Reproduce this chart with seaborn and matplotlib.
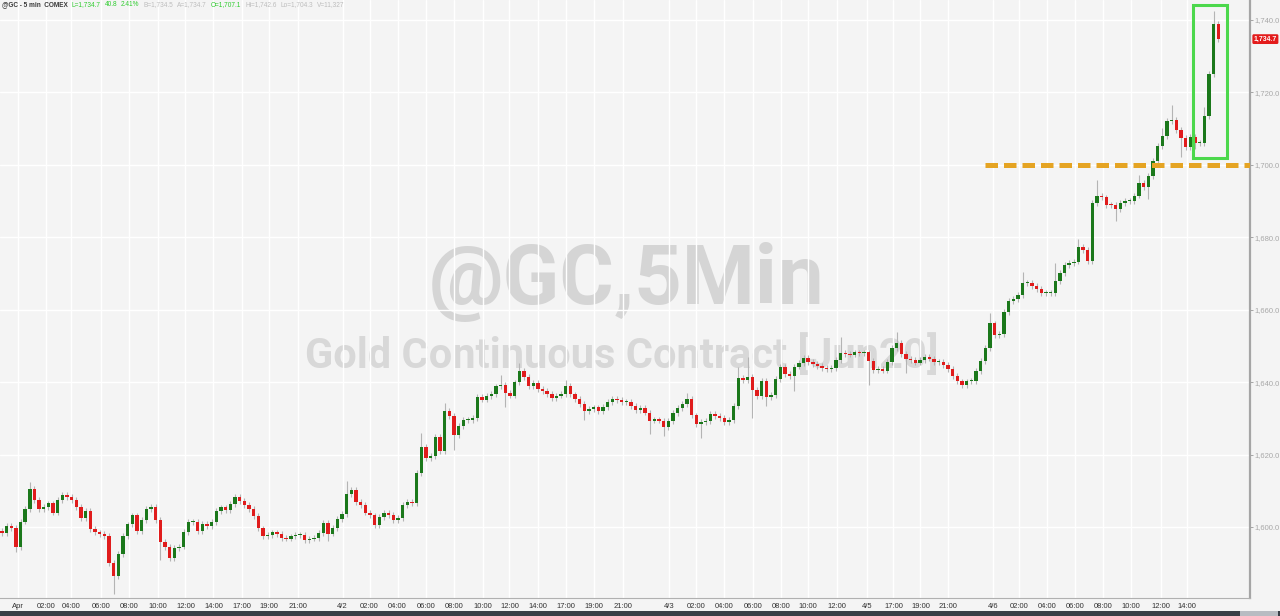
import numpy as np
import pandas as pd
import matplotlib
matplotlib.use('Agg')
import matplotlib.pyplot as plt
import matplotlib.transforms as mtransforms
from matplotlib.patches import Rectangle
import seaborn as sns

# 20-minute closes (31 Mar 23:00 -> 6 Apr ~14:40)
closes = [
    1598.3, 1600.4, 1599.8, 1594.5, 1601.5, 1605.0, 1610.5, 1607.5, 1605.0, 1605.5,
    1606.5, 1604.0, 1607.5, 1608.8, 1608.3, 1607.5, 1605.5, 1602.5, 1604.5, 1599.5,
    1598.5, 1598.0, 1597.5, 1590.0, 1586.5, 1592.5, 1597.5, 1600.7, 1603.2, 1599.0,
    1602.0, 1605.0, 1605.5, 1602.0, 1595.8, 1594.5, 1591.5, 1594.2, 1594.6, 1598.6,
    1601.3, 1601.4, 1599.0, 1600.8, 1600.2, 1601.4, 1604.4, 1605.4, 1604.8, 1606.4,
    1608.2, 1607.1, 1606.0, 1605.0, 1603.0, 1599.6, 1597.6, 1597.8, 1598.5, 1598.0,
    1597.0, 1596.8, 1597.4, 1597.8, 1597.8, 1596.5, 1596.8, 1597.0, 1598.3, 1601.0,
    1598.2, 1599.7, 1602.2, 1603.5, 1609.0, 1610.3, 1607.0, 1606.0, 1604.0, 1603.2,
    1600.5, 1602.8, 1603.8, 1603.3, 1602.0, 1602.5, 1606.0, 1606.8, 1606.5, 1615.0,
    1622.1, 1619.0, 1619.5, 1624.8, 1621.0, 1632.0, 1630.7, 1625.5, 1627.8, 1629.6,
    1629.6, 1630.2, 1635.8, 1635.2, 1636.1, 1636.8, 1638.8, 1639.3, 1636.9, 1636.3,
    1639.9, 1643.1, 1641.5, 1638.8, 1639.7, 1638.0, 1637.6, 1636.8, 1635.7, 1636.3,
    1636.8, 1638.9, 1636.6, 1635.4, 1634.0, 1631.9, 1632.5, 1633.0, 1632.0, 1633.2,
    1634.6, 1635.3, 1635.1, 1634.5, 1634.5, 1633.3, 1632.4, 1632.9, 1631.6, 1629.4,
    1629.6, 1629.4, 1627.5, 1629.3, 1631.4, 1632.8, 1634.0, 1635.4, 1630.8, 1628.5,
    1629.0, 1629.3, 1631.2, 1630.6, 1630.2, 1628.9, 1629.5, 1633.4, 1641.2, 1640.6,
    1641.5, 1637.8, 1636.1, 1640.4, 1636.0, 1636.5, 1640.8, 1644.2, 1642.2, 1641.6,
    1644.3, 1645.3, 1646.6, 1645.5, 1644.9, 1644.5, 1644.0, 1643.5, 1643.8, 1646.0,
    1648.1, 1647.8, 1647.6, 1648.2, 1648.1, 1648.2, 1645.8, 1643.4, 1643.6, 1643.2,
    1645.5, 1649.5, 1650.9, 1647.8, 1646.4, 1646.1, 1645.4, 1646.0, 1646.9, 1646.5,
    1645.6, 1645.6, 1644.8, 1643.6, 1641.8, 1640.2, 1639.3, 1640.2, 1640.3, 1643.0,
    1645.9, 1649.4, 1656.2, 1653.1, 1653.3, 1659.4, 1662.3, 1662.9, 1664.0, 1667.4,
    1667.5, 1666.5, 1665.7, 1664.5, 1664.6, 1664.7, 1667.8, 1670.2, 1672.3, 1672.8,
    1673.3, 1677.3, 1676.5, 1673.5, 1689.5, 1691.5, 1691.0, 1689.0, 1688.9, 1687.9,
    1689.5, 1690.1, 1690.1, 1691.5, 1695.0, 1693.8, 1696.8, 1701.1, 1705.1, 1708.0,
    1712.1, 1712.5, 1709.6, 1707.3, 1705.0, 1707.7, 1706.0, 1706.0, 1713.5, 1725.0,
    1739.0, 1734.7,
]
first_open = 1599.0
wick = 0.8  # usual shadow beyond the body

# bars with a visibly longer shadow
spike_high = {6: 1612.5, 74: 1612.8, 90: 1626.0, 95: 1634.3, 107: 1642.0, 111: 1645.3,
              121: 1640.5, 147: 1637.0, 158: 1644.3, 160: 1647.0, 180: 1652.5, 192: 1653.9,
              212: 1659.2, 219: 1670.5, 226: 1672.9, 231: 1679.4, 235: 1695.9, 244: 1697.2,
              249: 1710.2, 251: 1716.5, 258: 1716.0, 260: 1742.6}
spike_low = {3: 1593.0, 24: 1581.5, 34: 1590.8, 70: 1596.0, 97: 1621.3, 108: 1633.0,
             125: 1629.6, 139: 1625.6, 142: 1625.0, 150: 1624.5, 161: 1630.0, 164: 1633.5,
             170: 1637.5, 186: 1639.2, 194: 1642.5, 239: 1684.5, 246: 1690.5, 253: 1702.2,
             256: 1704.3}

tick_labels = ['Apr', '02:00', '04:00', '06:00', '08:00', '10:00', '12:00', '14:00', '17:00', '19:00', '21:00',
               '4/2', '02:00', '04:00', '06:00', '08:00', '10:00', '12:00', '14:00', '17:00', '19:00', '21:00',
               '4/3', '02:00', '04:00', '06:00', '08:00', '10:00', '12:00',
               '4/5', '17:00', '19:00', '21:00',
               '4/6', '02:00', '04:00', '06:00', '08:00', '10:00', '12:00', '14:00']
tick_bars = [3.4, 9.4, 14.8, 21.2, 27.2, 33.4, 39.4, 45.4, 51.6, 57.4, 63.6,
             73.1, 78.9, 84.9, 91.1, 97.1, 103.3, 108.9, 115.1, 121.1, 127.1, 133.3,
             143.1, 148.9, 154.9, 161.1, 167.1, 172.9, 179.1,
             185.6, 191.3, 197.1, 203.1,
             212.6, 218.3, 224.3, 230.3, 236.3, 242.3, 248.6, 254.3]
price_ticks = [1600, 1620, 1640, 1660, 1680, 1700, 1720, 1740]

last_price = 1734.7
support_level = 1700.0
support_from_bar = 211
box_bars = (255.6, 262.9)
box_prices = (1701.9, 1744.1)

header = [('@GC - 5 min  COMEX', '#3a3a3a'), ('L=1,734.7', '#2ecc2e'), ('40.8', '#2ecc2e'),
          ('2.41%', '#2ecc2e'), ('B=1,734.5', '#bdbdbd'), ('A=1,734.7', '#bdbdbd'),
          ('O=1,707.1', '#2ecc2e'), ('Hi=1,742.6', '#bdbdbd'), ('Lo=1,704.3', '#bdbdbd'),
          ('V=11,327', '#bdbdbd')]

UP = '#1b781b'
DOWN = '#e01c1c'
BG = '#f4f4f4'

df = pd.DataFrame({'close': closes})
df['open'] = df['close'].shift(1).fillna(first_open)
df['high'] = df[['open', 'close']].max(axis=1) + wick
df['low'] = df[['open', 'close']].min(axis=1) - wick
for k, v in spike_high.items():
    df.loc[k, 'high'] = v
for k, v in spike_low.items():
    df.loc[k, 'low'] = v
df['up'] = df['close'] >= df['open']
df['body_lo'] = df[['open', 'close']].min(axis=1)
df['body_h'] = (df['close'] - df['open']).abs().clip(lower=0.3)

sns.set_style('white')
plt.rcParams['font.family'] = ['Liberation Sans', 'DejaVu Sans']

fig = plt.figure(figsize=(12.8, 6.16), dpi=100, facecolor=BG)
ax = fig.add_axes([0, 18 / 616, 1250 / 1280, 598 / 616])
ax.set_facecolor(BG)

# watermark
ax.text(0.5016, 0.528, '@GC,5Min', transform=ax.transAxes, ha='center', va='center',
        fontsize=60, fontweight='bold', color='#d5d5d5', family='Roboto', zorder=0)
ax.text(0.4976, 0.405, 'Gold Continuous Contract [Jun20]', transform=ax.transAxes, ha='center',
        va='center', fontsize=30, fontweight='bold', color='#d8d8d8', family='Roboto', zorder=0)

# candles
ax.vlines(df.index, df['low'], df['high'], color='#b4b4b4', lw=0.8, zorder=2)
ax.bar(df.index, df['body_h'], bottom=df['body_lo'], width=0.72,
       color=np.where(df['up'], UP, DOWN), lw=0, zorder=3)

x_right = 267.8
ax.set_xlim(-0.4, x_right)
ax.set_ylim(1580.4, 1745.5)

# support line and highlight box
ax.hlines(support_level, support_from_bar, x_right, color='#e5a423', lw=3.6,
          linestyles=(0, (2.5, 1.2)), zorder=4)
ax.add_patch(Rectangle((box_bars[0], box_prices[0]), box_bars[1] - box_bars[0],
                       box_prices[1] - box_prices[0], fill=False, ec='#4cd84c', lw=2.2, zorder=5))

# axes styling
ax.set_xticks(tick_bars)
ax.set_xticklabels(tick_labels)
minor = [(a + b) / 2 for a, b in zip(tick_bars[:-1], tick_bars[1:])]
ax.set_xticks(minor, minor=True)
ax.tick_params(axis='x', which='both', length=2, width=0.6, color='#888888', pad=1.5,
               labelsize=5.5, labelcolor='#333333', direction='out')
ax.yaxis.tick_right()
ax.set_yticks(price_ticks)
ax.set_yticklabels([f'{p:,.1f}' for p in price_ticks])
ax.tick_params(axis='y', length=2, width=0.6, color='#999999', pad=1.5,
               labelsize=5.5, labelcolor='#a8a8a8')
ax.grid(True, color='white', lw=1.0, zorder=1)
ax.set_axisbelow(True)
for s in ['top', 'left']:
    ax.spines[s].set_visible(False)
ax.spines['right'].set_color('#a5a5a5')
ax.spines['right'].set_linewidth(1.6)
ax.spines['bottom'].set_color('#b0b0b0')
ax.spines['bottom'].set_linewidth(0.8)

# last price tag
trans = mtransforms.blended_transform_factory(ax.transAxes, ax.transData)
ax.text(1.003, last_price, f'{last_price:,.1f}', transform=trans, ha='left', va='center',
        fontsize=5, fontweight='bold', color='white', clip_on=False, zorder=6,
        bbox=dict(boxstyle='round,pad=0.2', fc='#e31b1b', ec='none'))

# header line, pieces chained one after another
prev = fig.text(2 / 1280, 1 - 5 / 616, header[0][0], ha='left', va='center', fontsize=4.7,
                color=header[0][1], fontweight='bold')
for txt, col in header[1:]:
    prev = ax.annotate(txt, xy=(1, 0.5), xycoords=prev, xytext=(2.8, 0),
                       textcoords='offset points', ha='left', va='center', fontsize=4.7,
                       color=col, annotation_clip=False)

# bottom dark strip
fig.patches.append(Rectangle((0, 0), 1, 5 / 616, transform=fig.transFigure,
                             fc='#3a3f47', ec='none'))
fig.patches.append(Rectangle((1240 / 1280, 0), 38 / 1280, 5 / 616, transform=fig.transFigure,
                             fc='#b8bcc2', ec='none'))

fig.savefig('out.png', dpi=100, facecolor=fig.get_facecolor())
